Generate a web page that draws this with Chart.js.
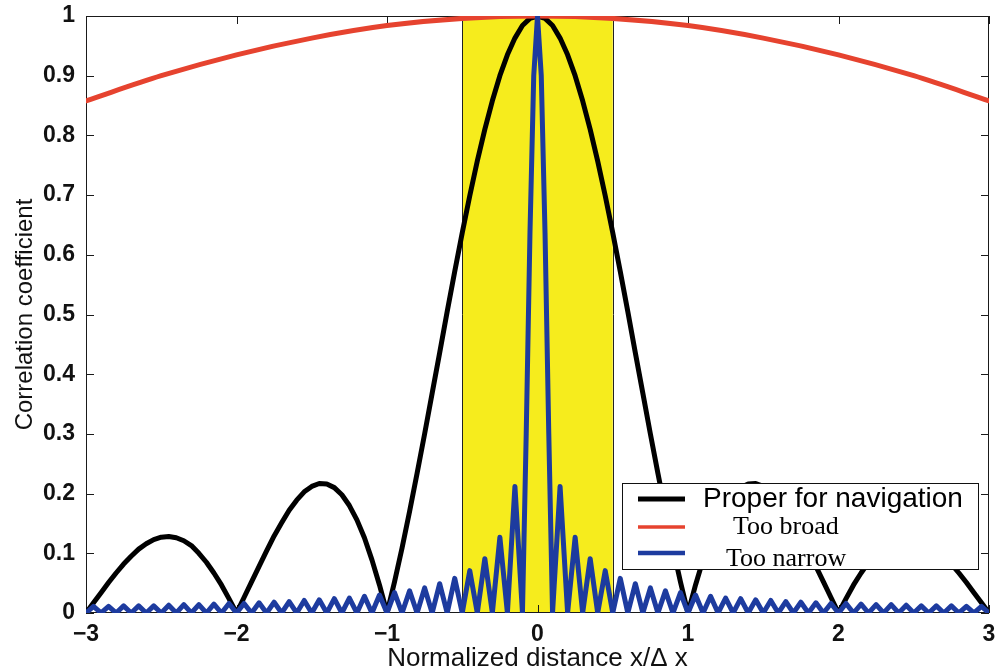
<!DOCTYPE html>
<html>
<head>
<meta charset="utf-8">
<script src="https://cdn.jsdelivr.net/npm/chart.js@4"></script>
<style>
  html, body { margin: 0; padding: 0; background: #fff; }
</style>
</head>
<body>
<canvas id="corrChart" width="997" height="672"></canvas>
<script>
// values
const properX = [-3, -2.95, -2.9, -2.85, -2.8, -2.75, -2.7, -2.65, -2.6, -2.55, -2.5, -2.45, -2.4, -2.35, -2.3, -2.25, -2.2, -2.15, -2.1, -2.05,
  -2, -1.95, -1.9, -1.85, -1.8, -1.75, -1.7, -1.65, -1.6, -1.55, -1.5, -1.45, -1.4, -1.35, -1.3, -1.25, -1.2, -1.15, -1.1, -1.05,
  -1, -0.95, -0.9, -0.85, -0.8, -0.75, -0.7, -0.65, -0.6, -0.55, -0.5, -0.45, -0.4, -0.35, -0.3, -0.25, -0.2, -0.15, -0.1, -0.05,
  0, 0.05, 0.1, 0.15, 0.2, 0.25, 0.3, 0.35, 0.4, 0.45, 0.5, 0.55, 0.6, 0.65, 0.7, 0.75, 0.8, 0.85, 0.9, 0.95,
  1, 1.05, 1.1, 1.15, 1.2, 1.25, 1.3, 1.35, 1.4, 1.45, 1.5, 1.55, 1.6, 1.65, 1.7, 1.75, 1.8, 1.85, 1.9, 1.95,
  2, 2.05, 2.1, 2.15, 2.2, 2.25, 2.3, 2.35, 2.4, 2.45, 2.5, 2.55, 2.6, 2.65, 2.7, 2.75, 2.8, 2.85, 2.9, 2.95, 3];
const properY = [0, 0.017, 0.034, 0.051, 0.067, 0.082, 0.095, 0.107, 0.116, 0.123, 0.127, 0.128, 0.126, 0.121, 0.113, 0.100, 0.085, 0.067, 0.047, 0.024,
  0, 0.026, 0.052, 0.078, 0.104, 0.129, 0.151, 0.172, 0.189, 0.203, 0.212, 0.217, 0.216, 0.210, 0.198, 0.180, 0.156, 0.126, 0.089, 0.047,
  0, 0.052, 0.109, 0.170, 0.234, 0.300, 0.368, 0.436, 0.505, 0.572, 0.637, 0.699, 0.757, 0.810, 0.858, 0.900, 0.935, 0.963, 0.984, 0.996,
  1, 0.996, 0.984, 0.963, 0.935, 0.900, 0.858, 0.810, 0.757, 0.699, 0.637, 0.572, 0.505, 0.436, 0.368, 0.300, 0.234, 0.170, 0.109, 0.052,
  0, 0.047, 0.089, 0.126, 0.156, 0.180, 0.198, 0.210, 0.216, 0.217, 0.212, 0.203, 0.189, 0.172, 0.151, 0.129, 0.104, 0.078, 0.052, 0.026,
  0, 0.024, 0.047, 0.067, 0.085, 0.100, 0.113, 0.121, 0.126, 0.128, 0.127, 0.123, 0.116, 0.107, 0.095, 0.082, 0.067, 0.051, 0.034, 0.017, 0];

const broadX = [-3, -2.5, -2, -1.5, -1, -0.5, 0, 0.5, 1, 1.5, 2, 2.5, 3];
const broadY = [0.858, 0.900, 0.935, 0.963, 0.984, 0.996, 1, 0.996, 0.984, 0.963, 0.935, 0.900, 0.858];

const narrowX = [-3, -2.95, -2.9, -2.85, -2.8, -2.75, -2.7, -2.65, -2.6, -2.55, -2.5, -2.45, -2.4, -2.35, -2.3, -2.25, -2.2, -2.15, -2.1, -2.05,
  -2, -1.95, -1.9, -1.85, -1.8, -1.75, -1.7, -1.65, -1.6, -1.55, -1.5, -1.45, -1.4, -1.35, -1.3, -1.25, -1.2, -1.15, -1.1, -1.05,
  -1, -0.95, -0.9, -0.85, -0.8, -0.75, -0.7, -0.65, -0.6, -0.55, -0.5, -0.45, -0.4, -0.35, -0.3, -0.25, -0.2, -0.15,
  -0.1, -0.075, -0.05, -0.025, 0, 0.025, 0.05, 0.075, 0.1,
  0.15, 0.2, 0.25, 0.3, 0.35, 0.4, 0.45, 0.5, 0.55, 0.6, 0.65, 0.7, 0.75, 0.8, 0.85, 0.9, 0.95, 1,
  1.05, 1.1, 1.15, 1.2, 1.25, 1.3, 1.35, 1.4, 1.45, 1.5, 1.55, 1.6, 1.65, 1.7, 1.75, 1.8, 1.85, 1.9, 1.95, 2,
  2.05, 2.1, 2.15, 2.2, 2.25, 2.3, 2.35, 2.4, 2.45, 2.5, 2.55, 2.6, 2.65, 2.7, 2.75, 2.8, 2.85, 2.9, 2.95, 3];
const narrowY = [0, 0.011, 0, 0.011, 0, 0.012, 0, 0.012, 0, 0.012, 0, 0.013, 0, 0.014, 0, 0.014, 0, 0.015, 0, 0.016,
  0, 0.016, 0, 0.017, 0, 0.018, 0, 0.019, 0, 0.021, 0, 0.022, 0, 0.024, 0, 0.025, 0, 0.028, 0, 0.030,
  0, 0.034, 0, 0.037, 0, 0.042, 0, 0.049, 0, 0.058, 0, 0.071, 0, 0.091, 0, 0.127, 0, 0.212,
  0, 0.300, 0.637, 0.900, 1, 0.900, 0.637, 0.300, 0,
  0.212, 0, 0.127, 0, 0.091, 0, 0.071, 0, 0.058, 0, 0.049, 0, 0.042, 0, 0.037, 0, 0.034, 0,
  0.030, 0, 0.028, 0, 0.025, 0, 0.024, 0, 0.022, 0, 0.021, 0, 0.019, 0, 0.018, 0, 0.017, 0, 0.016, 0,
  0.016, 0, 0.015, 0, 0.014, 0, 0.014, 0, 0.013, 0, 0.012, 0, 0.012, 0, 0.012, 0, 0.011, 0, 0.011, 0];

const seriesNames = ['Proper for navigation', 'Too broad', 'Too narrow'];
const bandX = [-0.5, 0.5];           // shaded region
const xTicks = [-3, -2, -1, 0, 1, 2, 3];
const yTicks = [0, 0.1, 0.2, 0.3, 0.4, 0.5, 0.6, 0.7, 0.8, 0.9, 1];

const toPoints = (xs, ys) => xs.map((x, i) => ({ x: x, y: ys[i] }));

const black = '#000000';
const red = '#e6432f';
const blue = '#1d3b9f';

// legend box corners in data units: left, right, top, bottom
const legendAt = [0.56, 2.93, 0.218, 0.074];

const framePlugin = {
  id: 'frame',
  beforeDraw(chart) {
    const ctx = chart.ctx;
    ctx.save();
    ctx.fillStyle = '#fff';
    ctx.fillRect(0, 0, chart.width, chart.height);
    ctx.restore();
  },
  beforeDatasetsDraw(chart) {
    const { ctx, chartArea: a, scales: { x, y } } = chart;
    const b0 = x.getPixelForValue(bandX[0]);
    const b1 = x.getPixelForValue(bandX[1]);
    ctx.save();
    ctx.fillStyle = '#f6ec1d';
    ctx.fillRect(b0, a.top, b1 - b0, a.bottom - a.top);
    ctx.strokeStyle = '#222';
    ctx.lineWidth = 1;
    ctx.beginPath();
    ctx.moveTo(Math.round(b0) + 0.5, a.top); ctx.lineTo(Math.round(b0) + 0.5, a.bottom);
    ctx.moveTo(Math.round(b1) + 0.5, a.top); ctx.lineTo(Math.round(b1) + 0.5, a.bottom);
    ctx.stroke();

    // box + inward ticks (matlab style)
    ctx.strokeStyle = '#1a1a1a';
    ctx.strokeRect(a.left + 0.5, a.top + 0.5, a.right - a.left - 1, a.bottom - a.top - 1);
    const tl = 8;
    ctx.beginPath();
    xTicks.forEach(v => {
      const px = Math.round(x.getPixelForValue(v)) + 0.5;
      ctx.moveTo(px, a.bottom); ctx.lineTo(px, a.bottom - tl);
      ctx.moveTo(px, a.top); ctx.lineTo(px, a.top + tl);
    });
    yTicks.forEach(v => {
      const py = Math.round(y.getPixelForValue(v)) + 0.5;
      ctx.moveTo(a.left, py); ctx.lineTo(a.left + tl, py);
      ctx.moveTo(a.right, py); ctx.lineTo(a.right - tl, py);
    });
    ctx.stroke();
    ctx.restore();
  }
};

const legendPlugin = {
  id: 'boxLegend',
  afterDatasetsDraw(chart) {
    const { ctx, scales: { x, y } } = chart;
    const l = Math.round(x.getPixelForValue(legendAt[0]));
    const r = Math.round(x.getPixelForValue(legendAt[1]));
    const t = Math.round(y.getPixelForValue(legendAt[2]));
    const b = Math.round(y.getPixelForValue(legendAt[3]));
    ctx.save();
    ctx.fillStyle = '#fff';
    ctx.fillRect(l, t, r - l, b - t);
    ctx.strokeStyle = '#111';
    ctx.lineWidth = 1;
    ctx.strokeRect(l + 0.5, t + 0.5, r - l, b - t);

    const rows = [
      { color: black, w: 5, ly: 16, tx: 81, ty: 24, font: '28px "Liberation Sans", Arial, sans-serif' },
      { color: red, w: 3.5, ly: 44, tx: 111, ty: 51, font: '26px "Liberation Serif", "Times New Roman", serif' },
      { color: blue, w: 4.5, ly: 70, tx: 104, ty: 83, font: '26px "Liberation Serif", "Times New Roman", serif' }
    ];
    rows.forEach((row, i) => {
      ctx.strokeStyle = row.color;
      ctx.lineWidth = row.w;
      ctx.beginPath();
      ctx.moveTo(l + 16, t + row.ly);
      ctx.lineTo(l + 63, t + row.ly);
      ctx.stroke();
      ctx.fillStyle = '#000';
      ctx.font = row.font;
      ctx.textBaseline = 'alphabetic';
      ctx.textAlign = 'left';
      ctx.fillText(seriesNames[i], l + row.tx, t + row.ty);
    });
    ctx.restore();
  }
};

const tickFont = { family: '"Liberation Sans", Arial, sans-serif', size: 23, weight: 'bold' };

const ctx = document.getElementById('corrChart').getContext('2d');
const corrChart = new Chart(ctx, {
  type: 'line',
  data: {
    datasets: [
      { label: seriesNames[0], data: toPoints(properX, properY), borderColor: black, borderWidth: 5, order: 2 },
      { label: seriesNames[1], data: toPoints(broadX, broadY), borderColor: red, borderWidth: 5, order: 1, cubicInterpolationMode: 'monotone' },
      { label: seriesNames[2], data: toPoints(narrowX, narrowY), borderColor: blue, borderWidth: 5, order: 0 }
    ]
  },
  options: {
    responsive: false,
    animation: false,
    devicePixelRatio: 1,
    parsing: false,
    elements: {
      point: { radius: 0 },
      line: { tension: 0, fill: false, borderJoinStyle: 'round', borderCapStyle: 'round' }
    },
    layout: { padding: { top: 16, right: 8, left: 0, bottom: 0 } },
    plugins: {
      legend: { display: false },
      tooltip: { enabled: false }
    },
    scales: {
      x: {
        type: 'linear',
        min: -3,
        max: 3,
        afterBuildTicks: s => { s.ticks = xTicks.map(v => ({ value: v })); },
        afterFit: s => { s.height = 59; s.paddingLeft = 0; s.paddingRight = 0; },
        grid: { display: false, drawTicks: false },
        border: { display: false },
        ticks: {
          padding: 8,
          color: '#111',
          font: tickFont,
          maxRotation: 0,
          callback: v => (v < 0 ? '\u2212' + (-v) : String(v))
        },
        title: {
          display: true,
          text: 'Normalized distance x/\u0394 x',
          color: '#111',
          font: { family: '"Liberation Sans", Arial, sans-serif', size: 26, lineHeight: 1 },
          padding: { top: 0, bottom: 0 }
        }
      },
      y: {
        type: 'linear',
        min: 0,
        max: 1,
        afterBuildTicks: s => { s.ticks = yTicks.map(v => ({ value: v })); },
        afterFit: s => { s.width = 86; s.paddingTop = 0; s.paddingBottom = 0; },
        grid: { display: false, drawTicks: false },
        border: { display: false },
        ticks: {
          padding: 11,
          color: '#111',
          font: tickFont,
          callback: v => String(+v.toFixed(1))
        },
        title: {
          display: true,
          text: 'Correlation coefficient',
          color: '#111',
          font: { family: '"Liberation Sans", Arial, sans-serif', size: 24 },
          padding: { top: 11, bottom: 0 }
        }
      }
    }
  },
  plugins: [framePlugin, legendPlugin]
});
</script>
</body>
</html>
